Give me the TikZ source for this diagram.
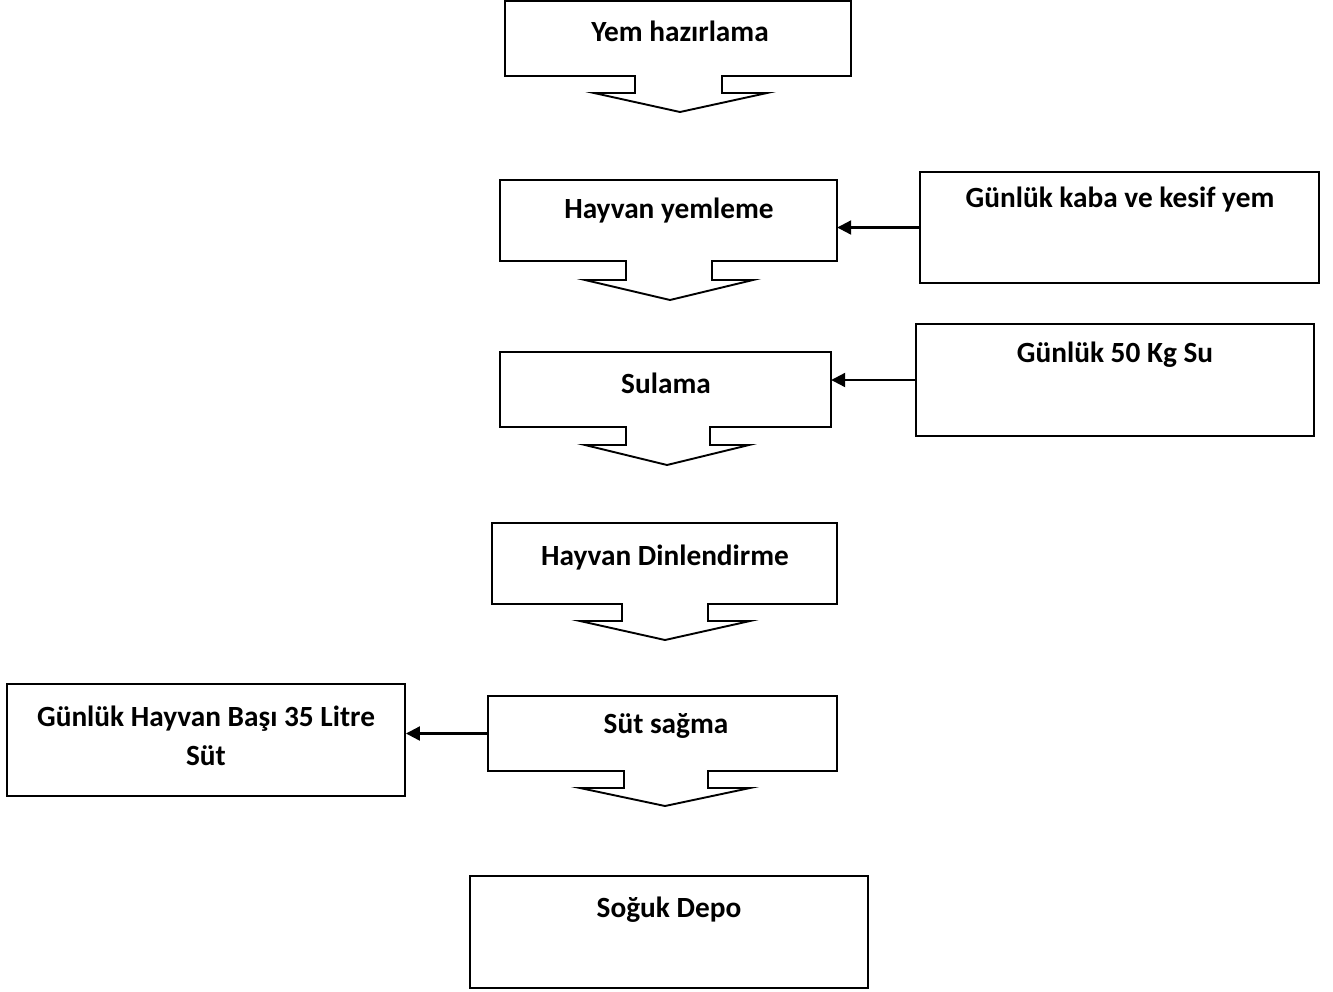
\documentclass[tikz,border=0pt]{standalone}
\usepackage{fontspec}
\setmainfont{Carlito}
\usetikzlibrary{arrows.meta,calc}
\tikzset{
  outline/.style={draw=black, line width=1.9pt, line join=miter},
  boxarea/.style={draw=none, inner sep=0pt, minimum width=#1},
  txt/.style={font=\bfseries\fontsize{29.3}{39}\selectfont, inner sep=0pt, align=center},
  sidebox/.style={draw=black, line width=1.9pt, inner sep=0pt},
  feed/.style={line width=2.2pt, -{Triangle[length=14pt,width=14pt]}}
}
\begin{document}
\begin{tikzpicture}[x=1pt,y=-1pt]
\useasboundingbox (0,0) rectangle (1333,991);
% callout 1
\node[boxarea=346pt, minimum height=76pt] (b1) at (678.5,38) {};
\node[txt] (t1) at (680,31) {Yem hazırlama};
\draw[outline] (505,1) -- (851,1) -- (851,76) -- (722,76) -- (722,93) -- (767,93) -- (680,112) -- (594,93) -- (635,93) -- (635,76) -- (505,76) -- cycle;
% callout 2
\node[boxarea=337pt, minimum height=81pt] (b2) at (668.5,220.5) {};
\node[txt] (t2) at (669,211) {Hayvan yemleme};
\draw[outline] (500,180) -- (837,180) -- (837,261) -- (712,261) -- (712,280) -- (753,280) -- (670,300) -- (585,280) -- (626,280) -- (626,261) -- (500,261) -- cycle;
% callout 3
\node[boxarea=331pt, minimum height=75pt] (b3) at (665.5,389.5) {};
\node[txt] (t3) at (666,383) {Sulama};
\draw[outline] (500,352) -- (831,352) -- (831,427) -- (710,427) -- (710,445) -- (749,445) -- (667,465) -- (585,445) -- (626,445) -- (626,427) -- (500,427) -- cycle;
% callout 4
\node[boxarea=345pt, minimum height=81pt] (b4) at (664.5,563.5) {};
\node[txt] (t4) at (665,558) {Hayvan Dinlendirme};
\draw[outline] (492,523) -- (837,523) -- (837,604) -- (708,604) -- (708,621) -- (750,621) -- (665,640) -- (580,621) -- (622,621) -- (622,604) -- (492,604) -- cycle;
% callout 5
\node[boxarea=349pt, minimum height=75pt] (b5) at (662.5,733.5) {};
\node[txt] (t5) at (666,726) {Süt sağma};
\draw[outline] (488,696) -- (837,696) -- (837,771) -- (708,771) -- (708,788) -- (750,788) -- (665,806) -- (580,788) -- (624,788) -- (624,771) -- (488,771) -- cycle;
% side boxes
\node[sidebox, minimum width=399pt, minimum height=111pt] (k1) at (1119.5,227.5) {};
\node[txt] (tk1) at (1120,200) {Günlük kaba ve kesif yem};
\node[sidebox, minimum width=398pt, minimum height=112pt] (k2) at (1115,380) {};
\node[txt] (tk2) at (1115,355) {Günlük 50 Kg Su};
\node[sidebox, minimum width=398pt, minimum height=112pt] (l1) at (206,740) {};
\node[txt] (tl1) at (206,735.5) {Günlük Hayvan Başı 35 Litre\\Süt};
\node[sidebox, minimum width=398pt, minimum height=112pt] (d1) at (669,932) {};
\node[txt] (td1) at (669,910) {Soğuk Depo};
% connectors
\draw[feed] (k1.west) -- (k1.west -| b2.east);
\draw[feed] (k2.west) -- (k2.west -| b3.east);
\draw[feed] (b5.west) -- (b5.west -| l1.east);
\end{tikzpicture}
\end{document}
